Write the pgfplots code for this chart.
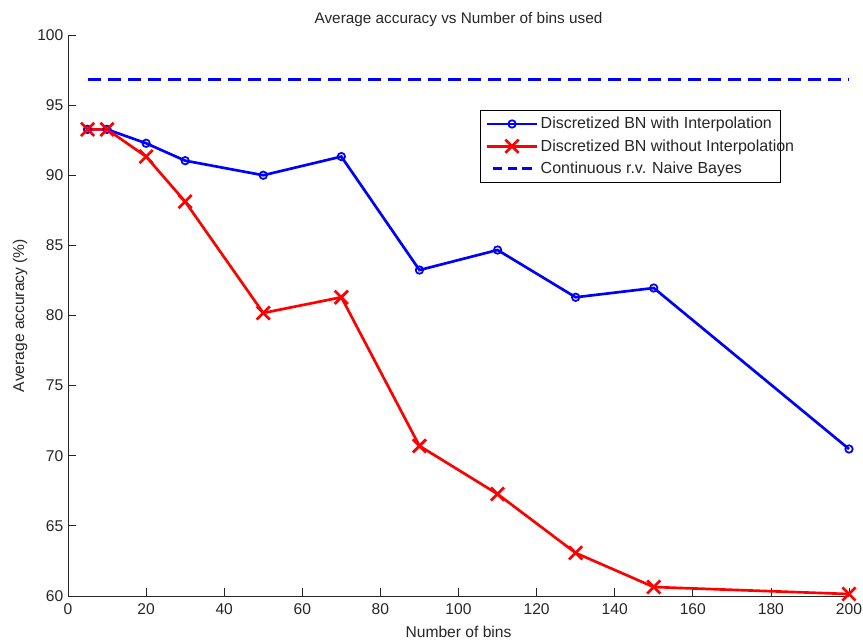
\documentclass[border=0pt]{standalone}
\usepackage{fontspec}
\setmainfont{Liberation Sans}
\usepackage{pgfplots}
\pgfplotsset{compat=1.18}
\definecolor{axgray}{RGB}{38,38,38}
\pgfplotsset{
  mylegend/.style={legend image code/.code={\draw[##1] (0cm,0cm) -- (1.3cm,0cm); \draw[##1,mark repeat=2,mark phase=2,solid] plot coordinates {(0cm,0cm) (0.65cm,0cm) (1.3cm,0cm)};}},
  dashlegend/.style={legend image code/.code={\draw[##1] (0.15cm,0cm) -- (1.3cm,0cm);}}
}
\newcommand{\lt}[1]{\makebox[174pt][l]{#1}}
\begin{document}
\begin{tikzpicture}
\begin{axis}[
  scale only axis,
  width=585.75pt, height=420.75pt,
  xmin=0, xmax=200, ymin=60, ymax=100,
  xtick={0,20,...,200}, ytick={60,65,...,100},
  axis lines*=left,
  axis line style={axgray, line width=0.6pt},
  tick style={axgray, line width=0.6pt},
  tick align=inside, major tick length=6pt,
  /pgf/number format/assume math mode=true,
  tick label style={font=\fontsize{11.7}{13}\selectfont, text=axgray},
  xticklabel style={yshift=-2.5pt},
  label style={font=\fontsize{11.7}{13}\selectfont, text=axgray},
  every axis title shift=0pt,
  title style={font=\fontsize{11.5}{13}\selectfont, text=axgray, at={(axis description cs:0.5,1.0268)}, anchor=center},
  title={Average accuracy vs Number of bins used},
  xlabel={Number of bins},
  ylabel={Average accuracy (\%)},
  xlabel style={at={(axis description cs:0.5,-0.0642)}, anchor=center},
  ylabel style={at={(axis description cs:-0.0615,0.5)}, anchor=center},
  clip=false,
  legend style={at={(axis description cs:0.913,0.866)}, anchor=north east,
    draw=black, line width=0.5pt, font=\fontsize{12}{13}\selectfont, text=axgray,
    row sep=2.5pt, inner xsep=4pt, inner ysep=3pt},
  legend cell align=left,
  mylegend,
]
\coordinate (bl) at (rel axis cs:0,0);
\coordinate (tr) at (rel axis cs:1,1);
\addplot[blue, line width=2pt, mark=o, mark size=2.8pt, mark options={line width=1.3pt}] coordinates {
(5,93.27) (10,93.27) (20,92.28) (30,91.04) (50,90.0) (70,91.33) (90,83.24) (110,84.67) (130,81.3) (150,81.96) (200,70.48)};
\addlegendentry{\lt{Discretized BN with Interpolation}}
\addplot[red, line width=2pt, mark=x, mark size=7pt, mark options={line width=2pt}] coordinates {
(5,93.27) (10,93.27) (20,91.33) (30,88.12) (50,80.18) (70,81.3) (90,70.7) (110,67.27) (130,63.07) (150,60.64) (200,60.14)};
\addlegendentry{\lt{Discretized BN without Interpolation}}
\addplot[blue, line width=2pt, dash pattern=on 9.75pt off 5.25pt, forget plot] coordinates {(5,96.84) (200,96.84)};
\addlegendimage{blue, line width=2pt, dash pattern=on 7pt off 4pt, dashlegend}
\addlegendentry{\lt{Continuous r.v. Naive Bayes}}
\end{axis}
\pgfresetboundingbox
\useasboundingbox ([shift={(-51pt,-33.75pt)}]bl) rectangle ([shift={(10.5pt,26.25pt)}]tr);
\end{tikzpicture}
\end{document}
